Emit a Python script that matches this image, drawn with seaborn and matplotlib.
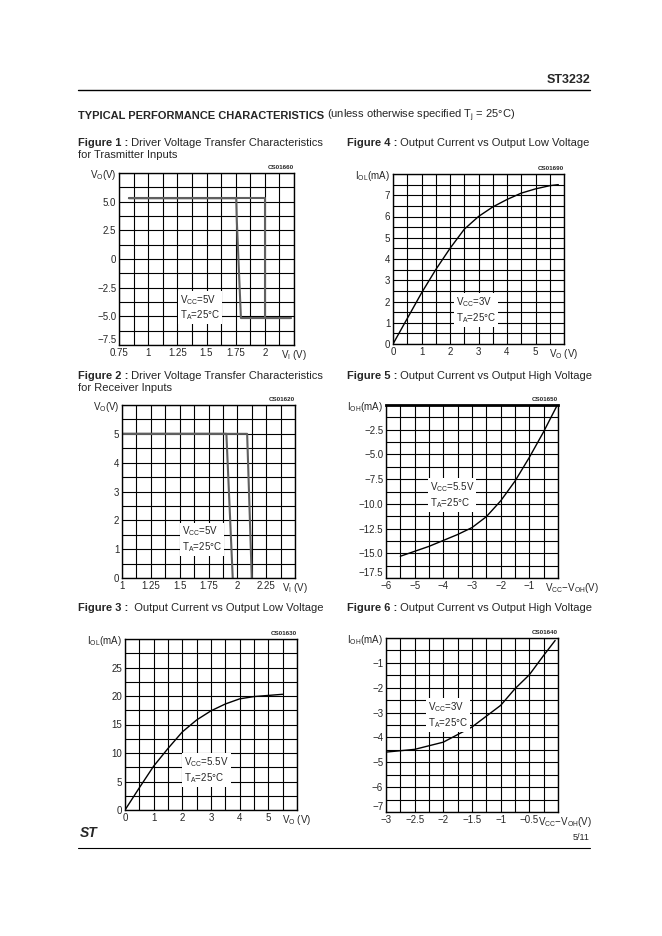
import matplotlib
matplotlib.use('Agg')
import numpy as np
import pandas as pd
import matplotlib.pyplot as plt
import seaborn as sns

sns.set_style('white')
plt.rcParams['font.family'] = ['Liberation Sans', 'DejaVu Sans']
plt.rcParams['mathtext.default'] = 'regular'

W, H = 662, 936

# ---- data ----
# Figure 1: driver transfer, transmitter inputs (two branches of hysteresis)
fig1_a_vi = [0.835, 2.0, 2.0, 2.22]
fig1_a_vo = [5.3, 5.3, -5.15, -5.15]
fig1_b_vi = [0.835, 1.755, 1.76, 1.795, 2.22]
fig1_b_vo = [5.3, 5.3, 3.3, -5.15, -5.15]

# Figure 2: driver transfer, receiver inputs
fig2_a_vi = [1.0, 1.905, 1.96]
fig2_a_vo = [5.0, 5.0, 0.0]
fig2_b_vi = [1.0, 2.085, 2.125]
fig2_b_vo = [5.0, 5.0, 0.0]

# Figure 3: IOL vs VO, Vcc=5.5V
fig3_vo = [0, 0.5, 1, 1.5, 2, 2.5, 3, 3.5, 4, 4.5, 5, 5.5]
fig3_iol = [0, 3.9, 7.7, 10.8, 13.7, 15.8, 17.4, 18.6, 19.5, 19.9, 20.1, 20.3]

# Figure 4: IOL vs VO, Vcc=3V
fig4_vo = [0, 0.5, 1, 1.5, 2, 2.5, 3, 3.5, 4, 4.5, 5, 5.5, 5.8]
fig4_iol = [0, 1.2, 2.4, 3.5, 4.5, 5.4, 6.0, 6.45, 6.8, 7.1, 7.3, 7.45, 7.5]

# Figure 5: IOH vs Vcc-VOH, Vcc=5.5V
fig5_v = [-5.5, -5.0, -4.5, -4.0, -3.5, -3.0, -2.5, -2.0, -1.5, -1.0, -0.5, -0.05]
fig5_ioh = [-15.3, -14.8, -14.3, -13.7, -13.1, -12.4, -11.3, -9.7, -7.7, -5.3, -2.7, -0.15]

# Figure 6: IOH vs Vcc-VOH, Vcc=3V
fig6_v = [-3.0, -2.5, -2.0, -1.5, -1.0, -0.75, -0.5, -0.25, -0.05]
fig6_ioh = [-4.59, -4.48, -4.19, -3.58, -2.71, -2.04, -1.48, -0.7, -0.1]

# tick labels
MINUS = '\u2212'
fig1_xt = [0.75, 1, 1.25, 1.5, 1.75, 2, 2.25]
fig1_xl = ['0.75', '1', '1.25', '1.5', '1.75', '2', r'V$_I$ (V)']
fig1_yt = [-7.5, -5, -2.5, 0, 2.5, 5, 7.5]
fig1_yl = [MINUS + '7.5', MINUS + '5.0', MINUS + '2.5', '0', '2.5', '5.0', r'V$_O$(V)']

fig2_xt = [1, 1.25, 1.5, 1.75, 2, 2.25, 2.5]
fig2_xl = ['1', '1.25', '1.5', '1.75', '2', '2.25', r'V$_I$ (V)']
fig2_yt = [0, 1, 2, 3, 4, 5, 6]
fig2_yl = ['0', '1', '2', '3', '4', '5', r'V$_O$(V)']

fig3_xt = [0, 1, 2, 3, 4, 5, 6]
fig3_xl = ['0', '1', '2', '3', '4', '5', r'V$_O$ (V)']
fig3_yt = [0, 5, 10, 15, 20, 25, 30]
fig3_yl = ['0', '5', '10', '15', '20', '25', r'I$_{OL}$(mA)']

fig4_xt = [0, 1, 2, 3, 4, 5, 6]
fig4_xl = ['0', '1', '2', '3', '4', '5', r'V$_O$ (V)']
fig4_yt = [0, 1, 2, 3, 4, 5, 6, 7, 8]
fig4_yl = ['0', '1', '2', '3', '4', '5', '6', '7', r'I$_{OL}$(mA)']

fig5_xt = [-6, -5, -4, -3, -2, -1, 0]
fig5_xl = [MINUS + '6', MINUS + '5', MINUS + '4', MINUS + '3', MINUS + '2', MINUS + '1', '']
fig5_yt = [-17.5, -15, -12.5, -10, -7.5, -5, -2.5, 0]
fig5_yl = [MINUS + '17.5', MINUS + '15.0', MINUS + '12.5', MINUS + '10.0', MINUS + '7.5',
           MINUS + '5.0', MINUS + '2.5', r'I$_{OH}$(mA)']

fig6_xt = [-3, -2.5, -2, -1.5, -1, -0.5, 0]
fig6_xl = [MINUS + '3', MINUS + '2.5', MINUS + '2', MINUS + '1.5', MINUS + '1', MINUS + '0.5', '']
fig6_yt = [-7, -6, -5, -4, -3, -2, -1, 0]
fig6_yl = [MINUS + '7', MINUS + '6', MINUS + '5', MINUS + '4', MINUS + '3', MINUS + '2',
           MINUS + '1', r'I$_{OH}$(mA)']

vdiff_label = 'V$_{CC}$' + MINUS + 'V$_{OH}$(V)'

fig = plt.figure(figsize=(W / 100, H / 100), dpi=100)


def box(x0, y0, x1, y1):
    return [x0 / W, 1 - y1 / H, (x1 - x0) / W, (y1 - y0) / H]


def panel(rect, curves, xt, xl, yt, yl, xstep, ystep, note, note_xy, code,
          color='black', lw=1.0, low_label_up=False):
    ax = fig.add_axes(rect)
    for xs, ys in curves:
        df = pd.DataFrame({'x': xs, 'y': ys})
        sns.lineplot(data=df, x='x', y='y', ax=ax, sort=False, estimator=None,
                     color=color, lw=lw)
    ax.set_xlim(xt[0], xt[-1])
    ax.set_ylim(yt[0], yt[-1])
    gx = np.arange(xt[0], xt[-1] + xstep / 2, xstep)
    gy = np.arange(yt[0], yt[-1] + ystep / 2, ystep)
    ax.set_xticks(gx, minor=True)
    ax.set_yticks(gy, minor=True)
    ax.set_xticks(xt)
    ax.set_xticklabels(xl)
    ax.set_yticks(yt)
    ax.set_yticklabels(yl)
    ax.grid(True, which='both', color='black', lw=0.8)
    ax.tick_params(which='both', length=0, labelsize=7, pad=2)
    if low_label_up:
        ax.get_yticklabels()[0].set_va('bottom')
    ax.set_xlabel('')
    ax.set_ylabel('')
    for s in ax.spines.values():
        s.set_color('black')
        s.set_linewidth(1.0)
    ax.text(note_xy[0], note_xy[1], note, fontsize=7, va='top', ha='left',
            bbox=dict(facecolor='white', edgecolor='none', pad=1.5))
    ax.text(1.0, 1.015, code, transform=ax.transAxes, fontsize=4.5, ha='right',
            va='bottom', fontweight='bold')
    return ax


panel(box(119, 173, 294, 345),
      [(fig1_a_vi, fig1_a_vo), (fig1_b_vi, fig1_b_vo)],
      fig1_xt, fig1_xl, fig1_yt, fig1_yl, 0.125, 1.25,
      'V$_{CC}$=5V\nT$_A$=25\u00b0C', (1.27, -2.95), 'CS01660', color='#606060', lw=1.5,
      low_label_up=True)

panel(box(393, 174, 564, 344),
      [(fig4_vo, fig4_iol)],
      fig4_xt, fig4_xl, fig4_yt, fig4_yl, 0.5, 0.5,
      'V$_{CC}$=3V\nT$_A$=25\u00b0C', (2.2, 2.3), 'CS01690')

panel(box(122, 405, 295, 578),
      [(fig2_a_vi, fig2_a_vo), (fig2_b_vi, fig2_b_vo)],
      fig2_xt, fig2_xl, fig2_yt, fig2_yl, 0.125, 0.5,
      'V$_{CC}$=5V\nT$_A$=25\u00b0C', (1.52, 1.85), 'CS01620', color='#606060', lw=1.5)

ax5 = panel(box(386, 405, 558, 578),
            [(fig5_v, fig5_ioh)],
            fig5_xt, fig5_xl, fig5_yt, fig5_yl, 0.5, 1.25,
            'V$_{CC}$=5.5V\nT$_A$=25\u00b0C', (-4.47, -7.6), 'CS01650', low_label_up=True)
ax5.spines['top'].set_linewidth(2.0)
ax5.annotate(vdiff_label, xy=(1, 0), xycoords='axes fraction', xytext=(-9.5, -2.5),
             textcoords='offset points', ha='left', va='top', fontsize=7)

panel(box(125, 639, 297, 810),
      [(fig3_vo, fig3_iol)],
      fig3_xt, fig3_xl, fig3_yt, fig3_yl, 0.5, 2.5,
      'V$_{CC}$=5.5V\nT$_A$=25\u00b0C', (2.07, 9.6), 'CS01630')

ax6 = panel(box(386, 638, 558, 812),
            [(fig6_v, fig6_ioh)],
            fig6_xt, fig6_xl, fig6_yt, fig6_yl, 0.25, 0.5,
            'V$_{CC}$=3V\nT$_A$=25\u00b0C', (-2.26, -2.5), 'CS01640', low_label_up=True)
ax6.annotate(vdiff_label, xy=(1, 0), xycoords='axes fraction', xytext=(-14.5, -2.5),
             textcoords='offset points', ha='left', va='top', fontsize=7)

# ---- page texts ----
fig.canvas.draw()
renderer = fig.canvas.get_renderer()


def rich(x, y, parts, size=8):
    xf = x / W
    for txt, weight in parts:
        t = fig.text(xf, 1 - y / H, txt, fontsize=size, fontweight=weight,
                     va='center', ha='left')
        bb = t.get_window_extent(renderer=renderer)
        xf = bb.x1 / W


fig.text(590 / W, 1 - 80 / H, 'ST3232', fontsize=9, fontweight='bold', ha='right', va='center')
fig.add_artist(plt.Line2D([78 / W, 590 / W], [1 - 90 / H, 1 - 90 / H], color='black', lw=1))

rich(78, 116, [('TYPICAL PERFORMANCE CHARACTERISTICS', 'bold'),
               (' (unless otherwise specified T$_j$ = 25\u00b0C)', 'normal')])

rich(78, 143, [('Figure 1 :', 'bold'), (' Driver Voltage Transfer Characteristics', 'normal')])
rich(78, 155, [('for Trasmitter Inputs', 'normal')])
rich(347, 143, [('Figure 4 :', 'bold'), (' Output Current vs Output Low Voltage', 'normal')])
rich(78, 376, [('Figure 2 :', 'bold'), (' Driver Voltage Transfer Characteristics', 'normal')])
rich(78, 388, [('for Receiver Inputs', 'normal')])
rich(347, 376, [('Figure 5 :', 'bold'), (' Output Current vs Output High Voltage', 'normal')])
rich(78, 608, [('Figure 3 :', 'bold'), ('  Output Current vs Output Low Voltage', 'normal')])
rich(347, 608, [('Figure 6 :', 'bold'), (' Output Current vs Output High Voltage', 'normal')])

fig.text(80 / W, 1 - 833 / H, 'ST', fontsize=10, fontweight='bold', style='italic',
         ha='left', va='center')
fig.text(590 / W, 1 - 838 / H, '5/11', fontsize=6.5, ha='right', va='center')
fig.add_artist(plt.Line2D([78 / W, 590 / W], [1 - 848 / H, 1 - 848 / H], color='black', lw=0.8))

fig.savefig('out.png', dpi=100, facecolor='white')
